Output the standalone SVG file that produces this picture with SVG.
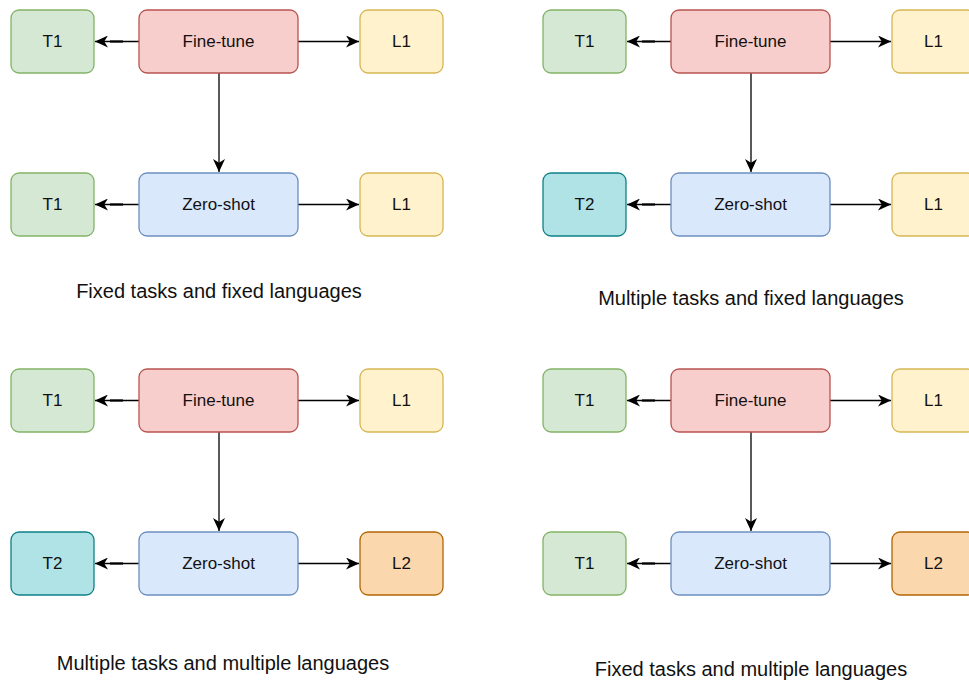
<svg xmlns="http://www.w3.org/2000/svg" width="969" height="682" viewBox="0 0 969 682">
  <style>
    .box { stroke-width: 1.3; }
    .lbl { font-family: "Liberation Sans", Arial, sans-serif; font-size: 17px; fill: #111; text-anchor: middle; }
    .cap { font-family: "Liberation Sans", Arial, sans-serif; font-size: 20px; fill: #111; text-anchor: middle; }
    .edge { stroke: #000; stroke-width: 1.3; fill: none; }
    .stub { stroke: #000; stroke-width: 2.2; }
    .green { fill: #d5e8d4; stroke: #82b366; }
    .red { fill: #f8cecc; stroke: #b85450; }
    .yellow { fill: #fff2cc; stroke: #d6b656; }
    .blue { fill: #dae8fc; stroke: #6c8ebf; }
    .teal { fill: #b0e3e6; stroke: #0e8088; }
    .orange { fill: #fad7ac; stroke: #b46504; }
  </style>
  <defs>
    <marker id="arrow" viewBox="0 0 13 12" refX="13" refY="6" markerWidth="13" markerHeight="12" markerUnits="userSpaceOnUse" orient="auto">
      <path d="M0,0 L13,6 L0,12 L3.8,6 z" fill="#000"/>
    </marker>
  </defs>
  <rect width="969" height="682" fill="#fff"/>

  <!-- connectors -->
  <g id="connectors">
    <!-- quadrant 1 -->
    <path class="edge" d="M139,41.5 H95" marker-end="url(#arrow)"/>
    <line class="stub" x1="110" y1="41.5" x2="123" y2="41.5"/>
    <path class="edge" d="M298,41.5 H359" marker-end="url(#arrow)"/>
    <path class="edge" d="M219,73 V172" marker-end="url(#arrow)"/>
    <path class="edge" d="M139,204.5 H95" marker-end="url(#arrow)"/>
    <line class="stub" x1="110" y1="204.5" x2="123" y2="204.5"/>
    <path class="edge" d="M298,204.5 H359" marker-end="url(#arrow)"/>
    <!-- quadrant 2 -->
    <path class="edge" d="M671,41.5 H627" marker-end="url(#arrow)"/>
    <line class="stub" x1="642" y1="41.5" x2="655" y2="41.5"/>
    <path class="edge" d="M830,41.5 H891" marker-end="url(#arrow)"/>
    <path class="edge" d="M751,73 V172" marker-end="url(#arrow)"/>
    <path class="edge" d="M671,204.5 H627" marker-end="url(#arrow)"/>
    <line class="stub" x1="642" y1="204.5" x2="655" y2="204.5"/>
    <path class="edge" d="M830,204.5 H891" marker-end="url(#arrow)"/>
    <!-- quadrant 3 -->
    <path class="edge" d="M139,400.5 H95" marker-end="url(#arrow)"/>
    <line class="stub" x1="110" y1="400.5" x2="123" y2="400.5"/>
    <path class="edge" d="M298,400.5 H359" marker-end="url(#arrow)"/>
    <path class="edge" d="M219,432 V531" marker-end="url(#arrow)"/>
    <path class="edge" d="M139,563.5 H95" marker-end="url(#arrow)"/>
    <line class="stub" x1="110" y1="563.5" x2="123" y2="563.5"/>
    <path class="edge" d="M298,563.5 H359" marker-end="url(#arrow)"/>
    <!-- quadrant 4 -->
    <path class="edge" d="M671,400.5 H627" marker-end="url(#arrow)"/>
    <line class="stub" x1="642" y1="400.5" x2="655" y2="400.5"/>
    <path class="edge" d="M830,400.5 H891" marker-end="url(#arrow)"/>
    <path class="edge" d="M751,432 V531" marker-end="url(#arrow)"/>
    <path class="edge" d="M671,563.5 H627" marker-end="url(#arrow)"/>
    <line class="stub" x1="642" y1="563.5" x2="655" y2="563.5"/>
    <path class="edge" d="M830,563.5 H891" marker-end="url(#arrow)"/>
  </g>

  <!-- quadrant 1: fixed tasks, fixed languages -->
  <g id="q1-t1-top"><rect class="box green" x="11" y="10" width="83" height="63" rx="8"/><text class="lbl" x="52.5" y="47">T1</text></g>
  <g id="q1-finetune"><rect class="box red" x="139" y="10" width="159" height="63" rx="8"/><text class="lbl" x="218.5" y="47">Fine-tune</text></g>
  <g id="q1-l1-top"><rect class="box yellow" x="360" y="10" width="83" height="63" rx="8"/><text class="lbl" x="401.5" y="47">L1</text></g>
  <g id="q1-t1-bottom"><rect class="box green" x="11" y="173" width="83" height="63" rx="8"/><text class="lbl" x="52.5" y="210">T1</text></g>
  <g id="q1-zeroshot"><rect class="box blue" x="139" y="173" width="159" height="63" rx="8"/><text class="lbl" x="218.5" y="210">Zero-shot</text></g>
  <g id="q1-l1-bottom"><rect class="box yellow" x="360" y="173" width="83" height="63" rx="8"/><text class="lbl" x="401.5" y="210">L1</text></g>
  <g id="q1-caption"><text class="cap" x="219" y="298">Fixed tasks and fixed languages</text></g>

  <!-- quadrant 2: multiple tasks, fixed languages -->
  <g id="q2-t1-top"><rect class="box green" x="543" y="10" width="83" height="63" rx="8"/><text class="lbl" x="584.5" y="47">T1</text></g>
  <g id="q2-finetune"><rect class="box red" x="671" y="10" width="159" height="63" rx="8"/><text class="lbl" x="750.5" y="47">Fine-tune</text></g>
  <g id="q2-l1-top"><rect class="box yellow" x="892" y="10" width="83" height="63" rx="8"/><text class="lbl" x="933.5" y="47">L1</text></g>
  <g id="q2-t2-bottom"><rect class="box teal" x="543" y="173" width="83" height="63" rx="8"/><text class="lbl" x="584.5" y="210">T2</text></g>
  <g id="q2-zeroshot"><rect class="box blue" x="671" y="173" width="159" height="63" rx="8"/><text class="lbl" x="750.5" y="210">Zero-shot</text></g>
  <g id="q2-l1-bottom"><rect class="box yellow" x="892" y="173" width="83" height="63" rx="8"/><text class="lbl" x="933.5" y="210">L1</text></g>
  <g id="q2-caption"><text class="cap" x="751" y="305">Multiple tasks and fixed languages</text></g>

  <!-- quadrant 3: multiple tasks, multiple languages -->
  <g id="q3-t1-top"><rect class="box green" x="11" y="369" width="83" height="63" rx="8"/><text class="lbl" x="52.5" y="406">T1</text></g>
  <g id="q3-finetune"><rect class="box red" x="139" y="369" width="159" height="63" rx="8"/><text class="lbl" x="218.5" y="406">Fine-tune</text></g>
  <g id="q3-l1-top"><rect class="box yellow" x="360" y="369" width="83" height="63" rx="8"/><text class="lbl" x="401.5" y="406">L1</text></g>
  <g id="q3-t2-bottom"><rect class="box teal" x="11" y="532" width="83" height="63" rx="8"/><text class="lbl" x="52.5" y="569">T2</text></g>
  <g id="q3-zeroshot"><rect class="box blue" x="139" y="532" width="159" height="63" rx="8"/><text class="lbl" x="218.5" y="569">Zero-shot</text></g>
  <g id="q3-l2-bottom"><rect class="box orange" x="360" y="532" width="83" height="63" rx="8"/><text class="lbl" x="401.5" y="569">L2</text></g>
  <g id="q3-caption"><text class="cap" x="223" y="670">Multiple tasks and multiple languages</text></g>

  <!-- quadrant 4: fixed tasks, multiple languages -->
  <g id="q4-t1-top"><rect class="box green" x="543" y="369" width="83" height="63" rx="8"/><text class="lbl" x="584.5" y="406">T1</text></g>
  <g id="q4-finetune"><rect class="box red" x="671" y="369" width="159" height="63" rx="8"/><text class="lbl" x="750.5" y="406">Fine-tune</text></g>
  <g id="q4-l1-top"><rect class="box yellow" x="892" y="369" width="83" height="63" rx="8"/><text class="lbl" x="933.5" y="406">L1</text></g>
  <g id="q4-t1-bottom"><rect class="box green" x="543" y="532" width="83" height="63" rx="8"/><text class="lbl" x="584.5" y="569">T1</text></g>
  <g id="q4-zeroshot"><rect class="box blue" x="671" y="532" width="159" height="63" rx="8"/><text class="lbl" x="750.5" y="569">Zero-shot</text></g>
  <g id="q4-l2-bottom"><rect class="box orange" x="892" y="532" width="83" height="63" rx="8"/><text class="lbl" x="933.5" y="569">L2</text></g>
  <g id="q4-caption"><text class="cap" x="751" y="676">Fixed tasks and multiple languages</text></g>
</svg>
